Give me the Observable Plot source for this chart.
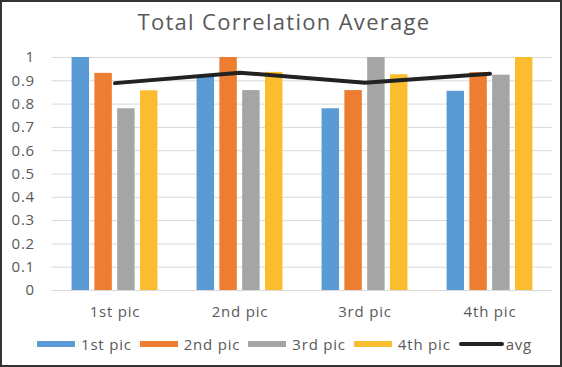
<!DOCTYPE html>
<html>
<head>
<meta charset="utf-8">
<script src="https://cdn.jsdelivr.net/npm/d3@7"></script>
<script src="https://cdn.jsdelivr.net/npm/@observablehq/plot@0.6"></script>
<style>
  html, body { margin: 0; padding: 0; background: #fff; }
  #chart {
    width: 562px; height: 367px; box-sizing: border-box;
    border: 2px solid #333; background: #fff; position: relative;
    font-family: "Open Sans", sans-serif; color: #595959;
  }
  #title { height: 38px; line-height: 38px; text-align: center; font-size: 22px; letter-spacing: 1.3px; color: #595959; padding-left: 6px; box-sizing: border-box; }
  #plot { height: 285px; }
  #legend { display: flex; justify-content: flex-start; align-items: center; font-size: 15px; letter-spacing: 0.8px; color: #595959; padding-left: 35px; margin-top: 9px; line-height: 20px; }
  .item { display: flex; align-items: center; margin-right: 8px; }
  .sw { width: 38px; height: 6px; margin-right: 6px; }
  .ln { width: 45px; height: 4px; border-radius: 2px; margin-right: 2px; }
</style>
</head>
<body>
<div id="chart">
  <div id="title">Total Correlation Average</div>
  <div id="plot"></div>
  <div id="legend"></div>
</div>
<script>
const groups = ["1st pic", "2nd pic", "3rd pic", "4th pic"];
const seriesNames = ["1st pic", "2nd pic", "3rd pic", "4th pic"];
const series1 = [1.0, 0.92, 0.78, 0.855];
const series2 = [0.932, 1.0, 0.858, 0.935];
const series3 = [0.78, 0.858, 1.0, 0.924];
const series4 = [0.857, 0.936, 0.926, 1.0];
const avgValues = [0.89, 0.935, 0.892, 0.93];
const yTicks = [0, 0.1, 0.2, 0.3, 0.4, 0.5, 0.6, 0.7, 0.8, 0.9, 1];
const colors = ["#5B9BD5", "#ED7D31", "#A5A5A5", "#FBBC2D"];
const avgColor = "#222222";

const allSeries = [series1, series2, series3, series4];
const barWidth = 17.5, step = 22.8;
const marginLeft = 49.5, marginRight = 8.3, width = 558;
const bandwidth = (width - marginLeft - marginRight) / groups.length;

const marks = [
  Plot.ruleY(yTicks, {stroke: "#D9D9D9", strokeWidth: 1})
];
allSeries.forEach((vals, i) => {
  const data = groups.map((g, j) => ({group: g, value: vals[j]}));
  const offset = (i - 1.5) * step;
  const inset = (bandwidth - barWidth) / 2;
  marks.push(Plot.barY(data, {
    x: "group", y: "value", fill: colors[i],
    insetLeft: inset + offset, insetRight: inset - offset
  }));
});
const avgData = groups.map((g, j) => ({group: g, value: avgValues[j]}));
marks.push(Plot.lineY(avgData, {x: "group", y: "value", stroke: avgColor, strokeWidth: 4, strokeLinecap: "round", strokeLinejoin: "round"}));

const fmt = d => String(+d.toFixed(1));
const plot = Plot.plot({
  width, height: 285,
  marginLeft, marginRight, marginTop: 17, marginBottom: 35,
  style: {fontFamily: "'Open Sans', sans-serif", color: "#595959", background: "transparent", letterSpacing: "0.8px"},
  x: {domain: groups, padding: 0, label: null},
  y: {domain: [0, 1], label: null},
  marks: [
    ...marks,
    Plot.axisX({tickSize: 0, tickPadding: 16, fontSize: 15, fill: "#595959", label: null}),
    Plot.axisY({ticks: yTicks, tickFormat: fmt, tickSize: 0, tickPadding: 17, fontSize: 15, fill: "#595959", label: null})
  ]
});
document.getElementById("plot").appendChild(plot);

const legend = document.getElementById("legend");
seriesNames.forEach((n, i) => {
  const it = document.createElement("div"); it.className = "item";
  const sw = document.createElement("div"); sw.className = "sw"; sw.style.background = colors[i];
  const t = document.createElement("span"); t.textContent = n;
  it.appendChild(sw); it.appendChild(t); legend.appendChild(it);
});
{
  const it = document.createElement("div"); it.className = "item";
  const ln = document.createElement("div"); ln.className = "ln"; ln.style.background = avgColor;
  const t = document.createElement("span"); t.textContent = "avg";
  it.appendChild(ln); it.appendChild(t); legend.appendChild(it);
}
</script>
</body>
</html>
